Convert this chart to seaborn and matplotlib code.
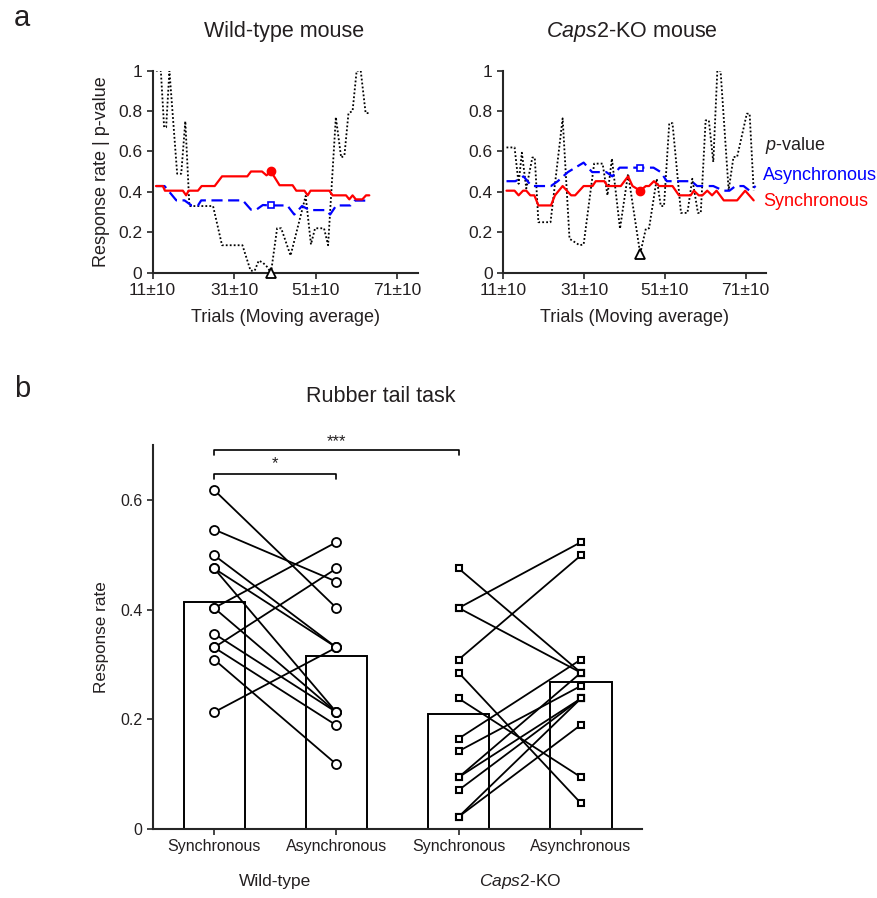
import numpy as np
import pandas as pd
import matplotlib
matplotlib.use("Agg")
import matplotlib.pyplot as plt
import seaborn as sns

sns.set_style("ticks")
plt.rcParams['font.family'] = ['Liberation Sans', 'DejaVu Sans']
plt.rcParams['mathtext.fontset'] = 'custom'
plt.rcParams['mathtext.rm'] = 'Liberation Sans'
plt.rcParams['mathtext.it'] = 'Liberation Sans:italic'

TXT = "#231f20"

# ---- panel a: moving-average traces (trial, value) breakpoints ----
wt_sync_t = [11.8, 13.5, 14.0, 18.4, 19.2, 19.8, 22.1, 23.0, 26.2, 28.0, 34.2, 35.1, 37.8, 38.9, 40.0,
             42.1, 45.3, 46.2, 48.2, 49.0, 49.7, 54.3, 55.1, 58.4, 59.2, 60.0, 60.8, 62.4, 63.3, 64.1]
wt_sync_v = [0.429, 0.429, 0.406, 0.406, 0.383, 0.406, 0.406, 0.429, 0.429, 0.477, 0.477, 0.501, 0.501, 0.482, 0.501,
             0.433, 0.433, 0.406, 0.406, 0.383, 0.406, 0.406, 0.383, 0.383, 0.363, 0.383, 0.363, 0.363, 0.383, 0.383]

wt_async_t = [11.8, 13.9, 16.8, 18.8, 20.5, 22.1, 22.9, 33.1, 35.1, 36.4, 38.0, 40.0, 44.0, 45.7, 47.6,
              49.5, 53.5, 54.5, 56.0, 59.5, 60.5, 64.1]
wt_async_v = [0.429, 0.429, 0.358, 0.358, 0.333, 0.333, 0.358, 0.358, 0.312, 0.312, 0.335, 0.333, 0.333, 0.288, 0.330,
              0.310, 0.310, 0.288, 0.333, 0.333, 0.357, 0.357]

wt_p_t = [11.8, 13.0, 13.8, 14.3, 15.1, 17.0, 18.0, 19.0, 20.0, 25.8, 28.0, 33.0, 35.0, 36.0, 37.0,
          38.0, 39.0, 40.0, 41.5, 42.5, 44.8, 48.5, 49.8, 50.8, 53.0, 54.0, 55.9, 57.2, 58.0, 59.0,
          60.0, 61.0, 62.0, 63.2, 64.1]
wt_p_v = [1.0, 1.0, 0.72, 0.72, 1.0, 0.49, 0.49, 0.75, 0.33, 0.33, 0.136, 0.136, 0.01, 0.01, 0.06,
          0.05, 0.03, 0.0, 0.22, 0.22, 0.085, 0.38, 0.14, 0.22, 0.22, 0.136, 0.77, 0.57, 0.58, 0.79,
          0.80, 1.0, 1.0, 0.79, 0.79]

ko_sync_t = [11.8, 13.8, 14.8, 15.9, 16.7, 17.7, 18.7, 19.7, 22.8, 23.8, 25.7, 27.8, 28.8, 30.9, 33.1,
             33.9, 36.0, 36.8, 40.1, 41.9, 43.0, 44.9, 46.3, 47.1, 48.3, 49.6, 52.9, 54.5, 57.4, 58.2,
             59.4, 60.3, 61.5, 62.7, 63.8, 65.6, 68.9, 70.9, 73.0]
ko_sync_v = [0.406, 0.406, 0.383, 0.406, 0.406, 0.383, 0.383, 0.333, 0.333, 0.383, 0.429, 0.383, 0.383, 0.429, 0.429,
             0.453, 0.453, 0.429, 0.429, 0.477, 0.429, 0.406, 0.429, 0.429, 0.453, 0.429, 0.429, 0.383, 0.383, 0.406,
             0.383, 0.383, 0.406, 0.383, 0.406, 0.358, 0.358, 0.406, 0.358]

ko_async_t = [11.8, 14.0, 16.0, 18.0, 22.8, 24.5, 27.0, 30.9, 33.0, 36.5, 38.0, 39.8, 44.9, 48.2, 50.0,
              51.5, 57.6, 59.0, 63.0, 65.5, 67.0, 68.5, 70.5, 72.0, 73.5]
ko_async_v = [0.453, 0.453, 0.477, 0.429, 0.429, 0.453, 0.498, 0.545, 0.498, 0.498, 0.477, 0.52, 0.52, 0.52, 0.498,
              0.453, 0.453, 0.429, 0.429, 0.406, 0.406, 0.429, 0.429, 0.406, 0.429]

ko_p_t = [11.8, 13.8, 14.8, 15.6, 16.7, 18.2, 18.8, 19.7, 22.7, 25.7, 27.4, 29.9, 30.9, 33.5, 35.6,
          36.8, 37.9, 39.9, 41.9, 44.9, 46.3, 47.1, 49.0, 50.0, 50.8, 52.1, 52.9, 55.0, 56.6, 57.8,
          59.2, 59.9, 61.1, 61.9, 63.0, 64.0, 64.8, 66.8, 68.0, 68.9, 71.3, 72.0, 73.0]
ko_p_v = [0.62, 0.62, 0.44, 0.594, 0.417, 0.57, 0.57, 0.25, 0.25, 0.764, 0.168, 0.136, 0.14, 0.54, 0.54,
          0.383, 0.565, 0.218, 0.49, 0.094, 0.218, 0.22, 0.465, 0.33, 0.33, 0.74, 0.74, 0.296, 0.296, 0.465,
          0.296, 0.296, 0.754, 0.754, 0.548, 1.0, 1.0, 0.408, 0.573, 0.573, 0.787, 0.787, 0.408]

# highlighted trial (max synchronous / min p-value)
wt_mark_t, wt_mark_sync, wt_mark_async, wt_mark_p = 40.0, 0.501, 0.333, 0.0
ko_mark_t, ko_mark_sync, ko_mark_async, ko_mark_p = 44.9, 0.406, 0.52, 0.094

trial_ticks = [11, 31, 51, 71]
trial_labels = ["11±10", "31±10", "51±10", "71±10"]

# ---- panel b: response rate per mouse ----
conditions = ["Synchronous", "Asynchronous"]
wt_sync = [0.618, 0.546, 0.499, 0.475, 0.475, 0.403, 0.403, 0.356, 0.331, 0.331, 0.309, 0.213]
wt_async = [0.403, 0.451, 0.331, 0.331, 0.213, 0.523, 0.213, 0.213, 0.475, 0.189, 0.118, 0.331]
ko_sync = [0.475, 0.403, 0.403, 0.309, 0.285, 0.238, 0.165, 0.142, 0.0945, 0.0945, 0.071, 0.0224, 0.0224]
ko_async = [0.285, 0.523, 0.285, 0.499, 0.047, 0.0945, 0.309, 0.261, 0.285, 0.238, 0.238, 0.238, 0.190]

fig = plt.figure(figsize=(8.78, 8.98), dpi=100)


def trace_panel(ax, st, sv, at, av, pt, pv, mt, ms, ma, mp):
    sns.lineplot(x=pt, y=pv, ax=ax, color="black", linestyle=(0, (1, 1.2)), lw=1.3,
                 estimator=None, sort=False)
    sns.lineplot(x=at, y=av, ax=ax, color="#0000ff", linestyle=(0, (5, 2.5)), lw=1.6,
                 estimator=None, sort=False)
    sns.lineplot(x=st, y=sv, ax=ax, color="#ff0000", lw=1.6, estimator=None, sort=False)
    ax.plot(mt, ms, "o", color="#ff0000", ms=6, zorder=5)
    ax.plot(mt, ma, "s", mfc="white", mec="#0000ff", mew=1.2, ms=5, zorder=5)
    ax.plot(mt, mp, "^", mfc="white", mec="black", mew=1.3, ms=6.5, zorder=5, clip_on=False)
    ax.set_xlim(11, 76)
    ax.set_ylim(0, 1)
    ax.set_xticks(trial_ticks)
    ax.set_xticklabels(trial_labels)
    ax.set_yticks([0, 0.2, 0.4, 0.6, 0.8, 1])
    ax.set_yticklabels(["0", "0.2", "0.4", "0.6", "0.8", "1"])
    ax.set_xlabel("Trials (Moving average)", fontsize=13, color=TXT, labelpad=8)
    ax.tick_params(labelsize=12.5, labelcolor=TXT, length=4, width=1.2, direction="out")
    sns.despine(ax=ax)
    for s in ["left", "bottom"]:
        ax.spines[s].set_linewidth(1.5)


ax1 = fig.add_axes([0.1739, 0.6963, 0.302, 0.225])
trace_panel(ax1, wt_sync_t, wt_sync_v, wt_async_t, wt_async_v, wt_p_t, wt_p_v,
            wt_mark_t, wt_mark_sync, wt_mark_async, wt_mark_p)
ax1.set_ylabel("Response rate | p-value", fontsize=13, color=TXT, labelpad=6)

ax2 = fig.add_axes([0.5732, 0.6963, 0.299, 0.225])
trace_panel(ax2, ko_sync_t, ko_sync_v, ko_async_t, ko_async_v, ko_p_t, ko_p_v,
            ko_mark_t, ko_mark_sync, ko_mark_async, ko_mark_p)

fig.text(284 / 878, 1 - 32 / 898, "Wild-type mouse", ha="center", va="center", fontsize=15.5, color=TXT)
fig.text(632 / 878, 1 - 32 / 898, r"$\mathit{Caps2}$-KO mouse", ha="center", va="center",
         fontsize=15.5, color=TXT)
fig.text(765 / 878, 1 - 145 / 898, r"$\mathit{p}$-value", ha="left", va="center", fontsize=13, color=TXT)
fig.text(763 / 878, 1 - 176 / 898, "Asynchronous", ha="left", va="center", fontsize=13, color="#0000ff")
fig.text(763 / 878, 1 - 201 / 898, "Synchronous", ha="left", va="center", fontsize=13, color="#ff0000")

# ---- panel b ----
rows = []
for grp, s, a in [("Wild-type", wt_sync, wt_async), ("Caps2-KO", ko_sync, ko_async)]:
    for i, (vs, va) in enumerate(zip(s, a)):
        rows.append(dict(group=grp, cond="Synchronous", mouse=f"{grp}{i}", rate=vs))
        rows.append(dict(group=grp, cond="Asynchronous", mouse=f"{grp}{i}", rate=va))
df = pd.DataFrame(rows)
df["cat"] = df["group"] + " " + df["cond"]
order = ["Wild-type Synchronous", "Wild-type Asynchronous", "Caps2-KO Synchronous", "Caps2-KO Asynchronous"]
df["pos"] = df["cat"].map({c: i for i, c in enumerate(order)})

ax3 = fig.add_axes([0.1743, 0.0768, 0.557, 0.4276])
sns.barplot(data=df, x="cat", y="rate", order=order, errorbar=None, width=0.5,
            color="white", edgecolor="black", linewidth=1.4, ax=ax3)
sns.lineplot(data=df, x="pos", y="rate", units="mouse", estimator=None, color="black",
             lw=1.3, ax=ax3, legend=False)
wt = df[df["group"] == "Wild-type"]
ko = df[df["group"] == "Caps2-KO"]
ax3.plot(wt["pos"], wt["rate"], "o", mfc="white", mec="black", mew=1.3, ms=6.5, zorder=5, ls="none")
ax3.plot(ko["pos"], ko["rate"], "s", mfc="white", mec="black", mew=1.5, ms=5, zorder=5, ls="none")

ax3.set_xlim(-0.5, 3.5)
ax3.set_ylim(0, 0.7)
ax3.set_yticks([0, 0.2, 0.4, 0.6])
ax3.set_yticklabels(["0", "0.2", "0.4", "0.6"])
ax3.set_xticks(range(4))
ax3.set_xticklabels(conditions * 2)
ax3.set_xlabel("")
ax3.set_ylabel("Response rate", fontsize=12.3, color=TXT, labelpad=8)
ax3.tick_params(labelsize=11.5, labelcolor=TXT, length=4, width=1.2, direction="out")
sns.despine(ax=ax3)
for s in ["left", "bottom"]:
    ax3.spines[s].set_linewidth(1.5)

# significance brackets
ax3.plot([0, 0, 1, 1], [0.638, 0.647, 0.647, 0.638], color="black", lw=1.2, clip_on=False)
ax3.text(0.5, 0.652, "*", ha="center", va="bottom", fontsize=12, color=TXT)
ax3.plot([0, 0, 2, 2], [0.682, 0.691, 0.691, 0.682], color="black", lw=1.2, clip_on=False)
ax3.text(1.0, 0.693, "***", ha="center", va="bottom", fontsize=12, color=TXT, clip_on=False)

tr = ax3.get_xaxis_transform()
ax3.text(0.5, -0.137, "Wild-type", transform=tr, ha="center", va="center", fontsize=12.5, color=TXT)
ax3.text(2.5, -0.137, r"$\mathit{Caps2}$-KO", transform=tr, ha="center", va="center",
         fontsize=12.5, color=TXT)

fig.text(381 / 878, 1 - 397 / 898, "Rubber tail task", ha="center", va="center", fontsize=15.5, color=TXT)
fig.text(22 / 878, 1 - 18 / 898, "a", ha="center", va="center", fontsize=21, color=TXT)
fig.text(22 / 878, 1 - 389 / 898, "b", ha="center", va="center", fontsize=21, color=TXT)

fig.savefig("out.png", dpi=100)
